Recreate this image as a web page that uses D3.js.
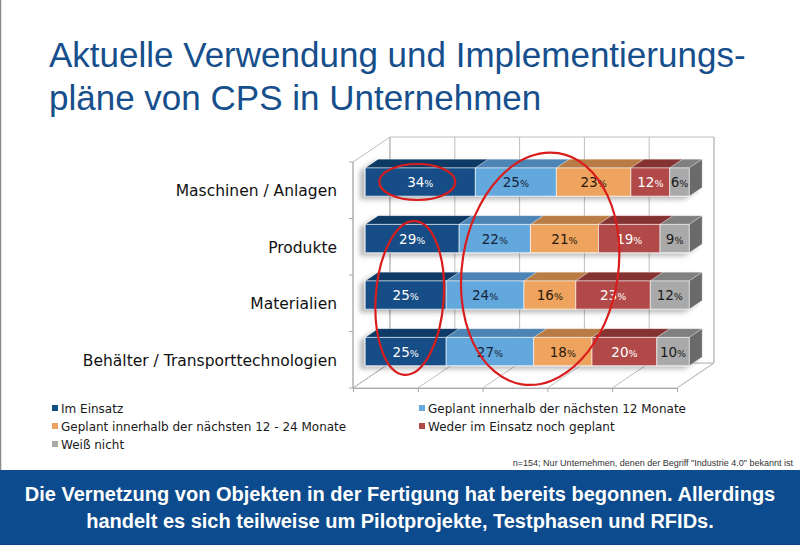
<!DOCTYPE html>
<html><head><meta charset="utf-8">
<script src="https://cdn.jsdelivr.net/npm/d3@7/dist/d3.min.js"></script>
<style>html,body{margin:0;padding:0;background:#fff;}svg{display:block;}</style>
</head><body>
<svg id="c" width="800" height="545"></svg>
<script>
// ---- data ----
const categories = ["Maschinen / Anlagen", "Produkte", "Materialien", "Behälter / Transporttechnologien"];
const seriesNames = ["Im Einsatz", "Geplant innerhalb der nächsten 12 Monate", "Geplant innerhalb der nächsten 12 - 24 Monate", "Weder im Einsatz noch geplant", "Weiß nicht"];
const imEinsatz = [34, 29, 25, 25];
const geplant12 = [25, 22, 24, 27];
const geplant24 = [23, 21, 16, 18];
const weder = [12, 19, 23, 20];
const weissNicht = [6, 9, 12, 10];
const gridTicks = [0, 20, 40, 60, 80, 100];
const titleLines = ["Aktuelle Verwendung und Implementierungs-", "pläne von CPS in Unternehmen"];
const footnote = 'n=154; Nur Unternehmen, denen der Begriff "Industrie 4.0" bekannt ist';
const bannerLines = ["Die Vernetzung von Objekten in der Fertigung hat bereits begonnen. Allerdings", "handelt es sich teilweise um Pilotprojekte, Testphasen und RFIDs."];

// ---- styles ----
const frontColors = ["#134e86", "#64a8dc", "#eea35e", "#b14848", "#a9a9a9"];
const topColors = ["#0c3a66", "#4c84b5", "#b97c45", "#853232", "#808080"];
const sideColor = "#6b6b6b";
const labelColors = ["#ffffff", "#15233a", "#2a1a0a", "#ffffff", "#1a1a1a"];

const svg = d3.select("#c");
const rows = categories.map((c, i) => ({
  cat: c,
  s0: imEinsatz[i], s1: geplant12[i], s2: geplant24[i], s3: weder[i], s4: weissNicht[i]
}));
const keys = ["s0", "s1", "s2", "s3", "s4"];
const stacked = d3.stack().keys(keys)(rows);

const x = d3.scaleLinear().domain([0, 100]).range([353, 677]);
const y = d3.scaleBand().domain(categories).range([162, 388]).paddingInner(0.5).paddingOuter(0.25);
const DX = 37, DY = -25;
const d0 = 0.33, d1 = 0.68;
const P = (v, yy, d) => [x(v) + d * DX, yy + d * DY];
const poly = pts => pts.map(p => p.join(",")).join(" ");

// page border
svg.append("line").attr("x1", 0.5).attr("x2", 0.5).attr("y1", 0).attr("y2", 470)
  .attr("stroke", "#8a8a8a").attr("stroke-width", 1.5);

// title
svg.append("g").selectAll("text").data(titleLines).join("text")
  .attr("x", 49).attr("y", (d, i) => 67 + i * 43)
  .attr("font-family", "Liberation Sans, Arial, sans-serif").attr("font-size", 35)
  .attr("fill", "#164f8c").text(d => d);

// ---- walls ----
const yTop = y.range()[0], yBot = y.range()[1];
const wall = svg.append("g").attr("fill", "none").attr("stroke", "#bdbdbd").attr("stroke-width", 1);
wall.append("polygon").attr("points", poly([P(0, yTop, 0), P(0, yTop, 1), P(0, yBot, 1), P(0, yBot, 0)])).attr("fill", "#fff");
wall.append("polygon").attr("points", poly([P(0, yBot, 0), P(0, yBot, 1), P(100, yBot, 1), P(100, yBot, 0)])).attr("fill", "#fff");
wall.append("polygon").attr("points", poly([P(0, yTop, 1), P(100, yTop, 1), P(100, yBot, 1), P(0, yBot, 1)])).attr("fill", "#fff");
gridTicks.forEach(t => {
  wall.append("line").attr("x1", P(t, yTop, 1)[0]).attr("y1", P(t, yTop, 1)[1]).attr("x2", P(t, yBot, 1)[0]).attr("y2", P(t, yBot, 1)[1]);
  wall.append("line").attr("x1", P(t, yBot, 0)[0]).attr("y1", P(t, yBot, 0)[1]).attr("x2", P(t, yBot, 1)[0]).attr("y2", P(t, yBot, 1)[1]);
});
const xAxis = svg.append("g").attr("transform", `translate(0,${yBot})`)
  .call(d3.axisBottom(x).tickValues(gridTicks).tickFormat("").tickSize(4).tickSizeOuter(0));
xAxis.selectAll("path,line").attr("stroke", "#a8a8a8");
const bounds = categories.map(c => y(c) - y.step() * y.paddingInner() / 2).concat([yBot]);
svg.append("line").attr("x1", x(0)).attr("x2", x(0)).attr("y1", yTop).attr("y2", yBot).attr("stroke", "#a8a8a8");
svg.append("g").selectAll("line").data(bounds).join("line")
  .attr("x1", x(0) - 4).attr("x2", x(0)).attr("y1", d => d).attr("y2", d => d).attr("stroke", "#a8a8a8");

// category labels
const yAxis = svg.append("g").attr("transform", `translate(${x(0)},0)`)
  .call(d3.axisLeft(y).tickSize(0).tickPadding(16));
yAxis.select(".domain").remove();
yAxis.selectAll("text").attr("font-family", "DejaVu Sans, Verdana, sans-serif").attr("font-size", 15.5).attr("fill", "#111").attr("dy", "0.4em");

// shadow filter
const defs = svg.append("defs");
const f = defs.append("filter").attr("id", "sh").attr("x", "-10%").attr("y", "-30%").attr("width", "120%").attr("height", "160%");
f.append("feDropShadow").attr("dx", -5).attr("dy", 3).attr("stdDeviation", 2.5).attr("flood-color", "#000").attr("flood-opacity", 0.28);

// ---- bars ----
const bars = svg.append("g");
rows.forEach((r, i) => {
  const yt = y(r.cat), yb = y(r.cat) + y.bandwidth();
  const g = bars.append("g").attr("filter", "url(#sh)");
  stacked.forEach((s, k) => {
    const v0 = s[i][0], v1 = s[i][1];
    g.append("polygon").attr("points", poly([P(v0, yt, d0), P(v1, yt, d0), P(v1, yt, d1), P(v0, yt, d1)]))
      .attr("fill", topColors[k]).attr("stroke", "rgba(255,255,255,0.35)").attr("stroke-width", 0.8);
    if (k === stacked.length - 1) {
      g.append("polygon").attr("points", poly([P(v1, yt, d0), P(v1, yt, d1), P(v1, yb, d1), P(v1, yb, d0)]))
        .attr("fill", sideColor).attr("stroke", "rgba(255,255,255,0.35)").attr("stroke-width", 0.8);
    }
    g.append("polygon").attr("points", poly([P(v0, yt, d0), P(v1, yt, d0), P(v1, yb, d0), P(v0, yb, d0)]))
      .attr("fill", frontColors[k]).attr("stroke", "rgba(255,255,255,0.6)").attr("stroke-width", 1);
  });
  stacked.forEach((s, k) => {
    const v0 = s[i][0], v1 = s[i][1];
    const cx = (P(v0, 0, d0)[0] + P(v1, 0, d0)[0]) / 2;
    const cy = (yt + yb) / 2 + d0 * DY;
    const t = bars.append("text").attr("x", cx).attr("y", cy + 5).attr("text-anchor", "middle")
      .attr("font-family", "DejaVu Sans, Verdana, sans-serif").attr("fill", labelColors[k]);
    t.append("tspan").attr("font-size", 13.5).text(v1 - v0);
    t.append("tspan").attr("font-size", 9.5).text("%");
  });
});

// ---- red annotation ellipses ----
const ell = svg.append("g").attr("fill", "none").attr("stroke", "#d91c1c").attr("stroke-width", 2.2);
{
  const r0 = rows[0];
  const c1x = (P(0, 0, d0)[0] + P(imEinsatz[0], 0, d0)[0]) / 2 - 3;
  const c1y = y(r0.cat) + y.bandwidth() / 2 + d0 * DY;
  ell.append("ellipse").attr("cx", c1x).attr("cy", c1y).attr("rx", 38).attr("ry", 18);
  const c2x = P(12.5, 0, d0)[0] + 4;
  const c2y = (y(categories[1]) + y(categories[3]) + y.bandwidth()) / 2 + d0 * DY + 3;
  ell.append("ellipse").attr("cx", c2x).attr("cy", c2y).attr("rx", 34).attr("ry", 77)
    .attr("transform", `rotate(4 ${c2x} ${c2y})`);
  const c3x = P(54, 0, d0)[0];
  const c3y = (y(categories[0]) + y(categories[3]) + y.bandwidth()) / 2 + d0 * DY + 2;
  ell.append("ellipse").attr("cx", c3x).attr("cy", c3y).attr("rx", 78).attr("ry", 117)
    .attr("transform", `rotate(9 ${c3x} ${c3y})`);
}

// ---- legend ----
const legend = svg.append("g");
seriesNames.forEach((n, k) => {
  const col = k % 2, row = Math.floor(k / 2);
  const lx = col === 0 ? 52 : 419, ly = 408 + row * 18;
  legend.append("rect").attr("x", lx).attr("y", ly - 3).attr("width", 6).attr("height", 6).attr("fill", frontColors[k]);
  legend.append("text").attr("x", lx + 9).attr("y", ly + 4.5)
    .attr("font-family", "DejaVu Sans, Verdana, sans-serif").attr("font-size", 12).attr("fill", "#1a1a1a").text(n);
});

// footnote
svg.append("text").attr("x", 793).attr("y", 466).attr("text-anchor", "end")
  .attr("font-family", "Liberation Sans Narrow, Liberation Sans, Arial, sans-serif").attr("font-size", 9)
  .attr("fill", "#333").text(footnote);

// banner
svg.append("rect").attr("x", 0).attr("y", 470).attr("width", 800).attr("height", 75).attr("fill", "#0c4b8d");
svg.append("g").selectAll("text").data(bannerLines).join("text")
  .attr("x", 400).attr("y", (d, i) => 501 + i * 27).attr("text-anchor", "middle")
  .attr("font-family", "Liberation Sans, Arial, sans-serif").attr("font-weight", "bold").attr("font-size", 20)
  .attr("fill", "#fff").text(d => d);
</script>
</body></html>
